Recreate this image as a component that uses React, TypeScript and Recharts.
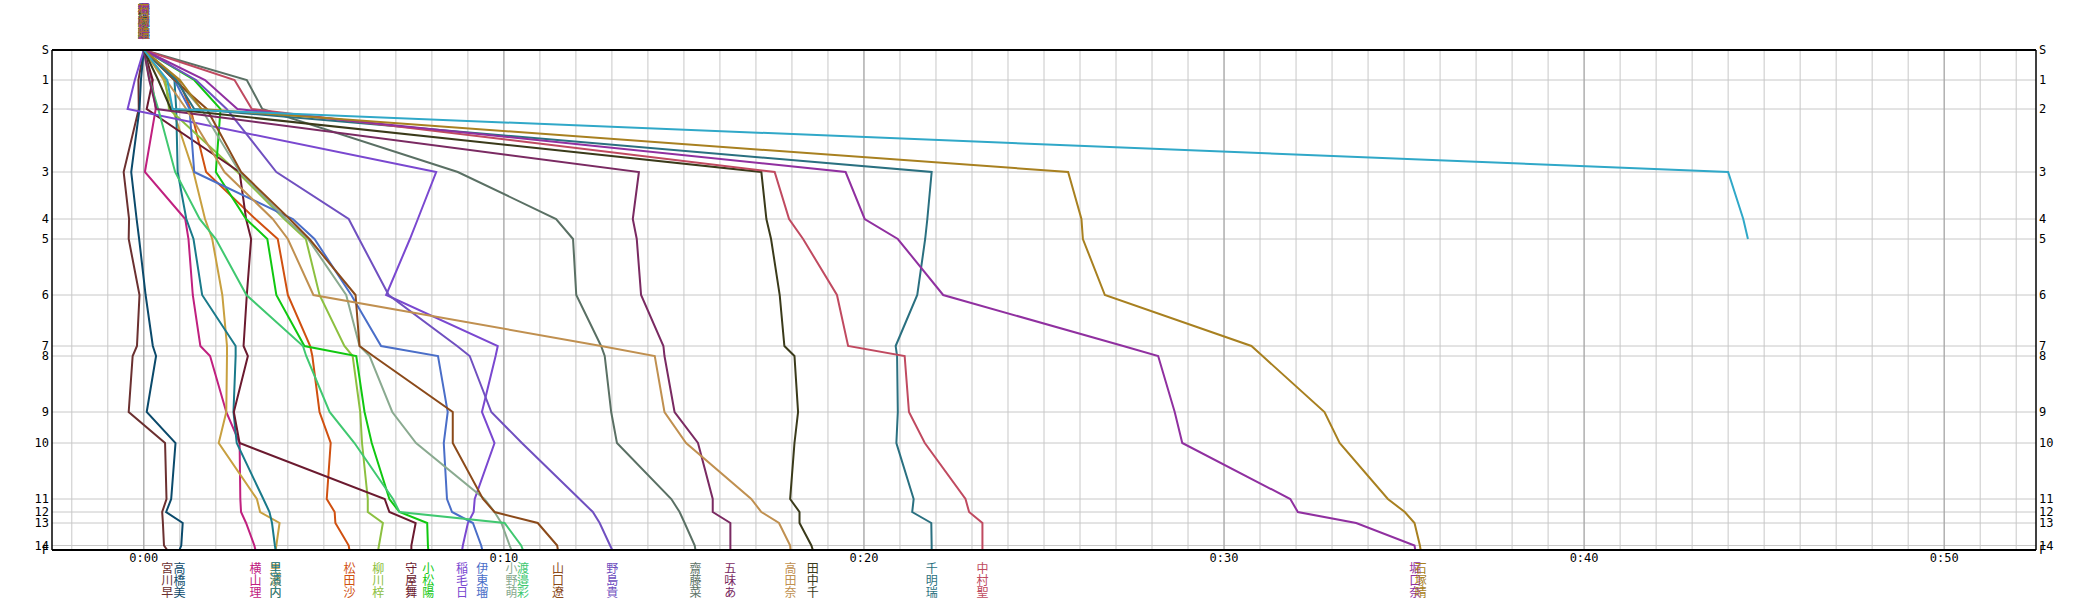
import React from "react";
import { LineChart, Line, XAxis, YAxis, CartesianGrid } from "recharts";

// stations top to bottom, and their position down the course
const stations = ["S", "1", "2", "3", "4", "5", "6", "7", "8", "9", "10", "11", "12", "13", "14", "F"];
const stationDist = [0, 30, 59, 122, 169, 189, 245, 296, 306, 362, 393, 449, 462, 473, 495.5, 500];

const timeTicks = [0, 10, 20, 30, 40, 50];
const minuteLines = [
  -2, -1, 0, 1, 2, 3, 4, 5, 6, 7, 8, 9, 10, 11, 12, 13, 14, 15, 16, 17, 18, 19, 20, 21, 22, 23, 24, 25, 26,
  27, 28, 29, 30, 31, 32, 33, 34, 35, 36, 37, 38, 39, 40, 41, 42, 43, 44, 45, 46, 47, 48, 49, 50, 51, 52,
];

const names = [
  "宮川早", "高橋美", "横山理", "黒瀬内", "里濱内", "松田沙", "柳川梓", "守屋舞", "小松陽", "稲毛日", "伊東瑠",
  "小野萌", "渡邉彩", "山口遼", "野島貴", "齋藤菜", "五味あ", "高田奈", "田中千", "千明瑞", "中村聖", "堀口奈",
  "石塚晴", "",
];

const colors = [
  "#6b3030", "#0b4a6b", "#c0207f", "#c8a040", "#1a7a8a", "#d05010", "#8cc040", "#6b1a2f", "#10c810", "#7a48d0",
  "#4a6ec8", "#8aaa90", "#40c870", "#8b4a1a", "#7050c0", "#5a7064", "#7a2a62", "#c09050", "#3a3a1a", "#2a7080",
  "#c04a60", "#9030a0", "#a88020", "#30a8c8",
];

// minutes at S,1..14,F
const miyagawa = [0, -0.15, -0.14, -0.56, -0.41, -0.42, -0.12, -0.19, -0.31, -0.42, 0.59, 0.63, 0.51, 0.53, 0.56, 0.65];
const takahashi = [0, -0.08, -0.12, -0.35, -0.2, -0.13, 0.05, 0.25, 0.34, 0.08, 0.88, 0.76, 0.62, 1.08, 1.04, 0.99];
const yokoyama = [0, 0.22, 0.33, 0.03, 1.15, 1.24, 1.36, 1.57, 1.84, 2.29, 2.66, 2.68, 2.7, 2.84, 3.07, 3.1];
const kurose = [0, 0.55, 0.8, 1.38, 1.7, 1.9, 2.18, 2.31, 2.31, 2.29, 2.08, 3.14, 3.23, 3.77, 3.68, 3.66];
const satohama = [0, 0.85, 0.9, 0.94, 1.18, 1.38, 1.62, 2.55, 2.55, 2.49, 2.58, 3.32, 3.49, 3.56, 3.64, 3.66];
const matsuda = [0, 0.97, 1.3, 1.73, 3.1, 3.72, 4.0, 4.62, 4.68, 4.88, 5.19, 5.08, 5.3, 5.32, 5.69, 5.71];
const yanagawa = [0, 0.6, 0.7, 2.6, 3.9, 4.5, 4.88, 5.57, 5.8, 6.01, 6.06, 6.22, 6.22, 6.64, 6.53, 6.51];
const moriya = [0, 0.25, 0.08, 2.66, 2.84, 2.98, 2.86, 2.77, 2.89, 2.5, 2.66, 6.69, 6.82, 7.55, 7.43, 7.43];
const komatsu = [0, 1.4, 2.13, 2.0, 2.84, 3.43, 3.68, 4.46, 5.9, 6.13, 6.33, 6.82, 7.1, 7.87, 7.89, 7.9];
const inage = [0, -0.25, -0.45, 8.12, 7.61, 7.39, 6.73, 9.83, 9.77, 9.39, 9.74, 9.19, 9.16, 9.0, 8.86, 8.84];
const ito = [0, 0.85, 1.27, 1.4, 4.14, 4.74, 5.76, 6.59, 8.17, 8.44, 8.33, 8.42, 8.56, 9.14, 9.37, 9.4];
const ono = [0, 0.9, 1.6, 2.66, 3.95, 4.56, 5.62, 5.99, 6.27, 6.9, 7.56, 9.46, 9.74, 9.93, 10.16, 10.21];
const watanabe = [0, 0.16, 0.4, 0.87, 1.55, 2.0, 2.85, 4.42, 4.51, 5.16, 5.85, 6.92, 7.1, 10.02, 10.48, 10.53];
const yamaguchi = [0, 0.85, 1.75, 2.7, 4.05, 4.6, 5.88, 5.99, 6.37, 8.58, 8.58, 9.42, 9.74, 10.94, 11.48, 11.5];
const nojima = [0, 1.45, 2.3, 3.68, 5.69, 5.98, 6.8, 8.7, 9.05, 9.65, 10.5, 12.1, 12.47, 12.66, 12.95, 13.01];
const saito = [0, 2.86, 3.29, 8.72, 11.45, 11.92, 12.01, 12.7, 12.8, 12.98, 13.14, 14.65, 14.88, 15.02, 15.3, 15.32];
const gomi = [0, 0.15, 0.35, 13.75, 13.58, 13.69, 13.81, 14.43, 14.46, 14.74, 15.39, 15.8, 15.8, 16.29, 16.29, 16.29];
const takada = [0, 0.62, 1.18, 2.24, 3.58, 4.0, 4.71, 12.7, 14.19, 14.46, 15.06, 16.87, 17.15, 17.64, 17.95, 17.96];
const tanaka = [0, 0.4, 0.75, 17.15, 17.29, 17.42, 17.66, 17.79, 18.07, 18.17, 18.07, 17.95, 18.21, 18.21, 18.54, 18.58];
const chigira = [0, 0.9, 1.4, 21.88, 21.76, 21.7, 21.48, 20.88, 20.92, 20.94, 20.9, 21.38, 21.34, 21.87, 21.88, 21.88];
const nakamura = [0, 2.52, 3.0, 17.52, 17.92, 18.31, 19.25, 19.56, 21.13, 21.25, 21.69, 22.82, 22.92, 23.29, 23.29, 23.29];
const horiguchi = [0, 1.7, 2.6, 19.49, 20.02, 20.94, 22.2, 27.2, 28.17, 28.63, 28.84, 31.84, 32.05, 33.67, 35.29, 35.31];
const ishizuka = [0, 1.0, 1.6, 25.67, 26.04, 26.08, 26.69, 30.76, 31.07, 32.79, 33.21, 34.55, 35.02, 35.29, 35.44, 35.46];
const dnf = [0, 0.65, 0.8, 44.0, 44.42, 44.55];

const splits = [
  miyagawa, takahashi, yokoyama, kurose, satohama, matsuda, yanagawa, moriya, komatsu, inage, ito, ono,
  watanabe, yamaguchi, nojima, saito, gomi, takada, tanaka, chigira, nakamura, horiguchi, ishizuka, dnf,
];

const AXIS_FONT = { fontSize: 12, fill: "#000", fontFamily: "DejaVu Sans Mono" };
const fmtTime = (v: number) => `0:${String(v).padStart(2, "0")}`;
const fmtStation = (v: number) => stations[stationDist.indexOf(v)] ?? "";

// runner names written top-to-bottom: at the start above the chart, at the finish below it
function nameDot(name: string, color: string, last: number) {
  return (props: any) => {
    const { cx, cy, index } = props;
    const chars = Array.from(name);
    if (!name || (index !== 0 && index !== last) || (index === last && last !== stations.length - 1)) {
      return <g key={`d${index}`} />;
    }
    const y0 = index === 0 ? cy - 36 : cy + 23;
    return (
      <text
        key={`d${index}`}
        x={cx}
        y={y0}
        textAnchor="middle"
        fill={color}
        fontSize={12}
        fontFamily="Noto Sans CJK JP"
      >
        {chars.map((c, j) => (
          <tspan key={j} x={cx} dy={j === 0 ? 0 : 12}>
            {c}
          </tspan>
        ))}
      </text>
    );
  };
}

export default function App() {
  return (
    <div style={{ position: "absolute", left: 0, top: 0, width: 2088, height: 600, overflow: "hidden", background: "#fff" }}>
      <LineChart width={2088} height={600} margin={{ top: 30, right: 32, bottom: 30, left: 32 }}>
        <CartesianGrid
          xAxisId="b"
          yAxisId="l"
          stroke="#c8c8c8"
          verticalValues={minuteLines}
          horizontalValues={stationDist}
        />
        <CartesianGrid xAxisId="b" yAxisId="l" stroke="#a0a0a0" verticalValues={timeTicks} horizontal={false} />
        <XAxis
          xAxisId="b"
          dataKey="t"
          type="number"
          orientation="bottom"
          domain={[-2.55, 52.55]}
          ticks={timeTicks}
          interval={0}
          tickFormatter={fmtTime}
          height={20}
          tickLine={false}
          tickSize={0}
          tickMargin={3}
          axisLine={{ stroke: "#000", strokeWidth: 2 }}
          tick={AXIS_FONT}
        />
        <XAxis
          xAxisId="t"
          type="number"
          orientation="top"
          domain={[-2.55, 52.55]}
          allowDataOverflow
          ticks={timeTicks}
          interval={0}
          tickFormatter={fmtTime}
          height={20}
          tickLine={false}
          tickSize={0}
          tickMargin={2}
          axisLine={{ stroke: "#000", strokeWidth: 2 }}
          tick={AXIS_FONT}
        />
        <YAxis
          yAxisId="l"
          type="number"
          domain={[0, 500]}
          reversed
          ticks={stationDist}
          interval={0}
          tickFormatter={fmtStation}
          width={20}
          tickLine={false}
          tickSize={0}
          tickMargin={3}
          axisLine={{ stroke: "#000", strokeWidth: 1.5 }}
          tick={AXIS_FONT}
        />
        <YAxis
          yAxisId="r"
          orientation="right"
          type="number"
          domain={[0, 500]}
          allowDataOverflow
          reversed
          ticks={stationDist}
          interval={0}
          tickFormatter={fmtStation}
          width={20}
          tickLine={false}
          tickSize={0}
          tickMargin={3}
          axisLine={{ stroke: "#000", strokeWidth: 1.5 }}
          tick={AXIS_FONT}
        />
        {splits.map((s, i) => (
          <Line
            key={names[i] || `r${i}`}
            xAxisId="b"
            yAxisId="l"
            type="linear"
            data={s.map((t, k) => ({ t, d: stationDist[k] }))}
            dataKey="d"
            stroke={colors[i]}
            strokeWidth={2}
            dot={nameDot(names[i], colors[i], s.length - 1)}
            activeDot={false}
            isAnimationActive={false}
          />
        ))}
      </LineChart>
    </div>
  );
}
